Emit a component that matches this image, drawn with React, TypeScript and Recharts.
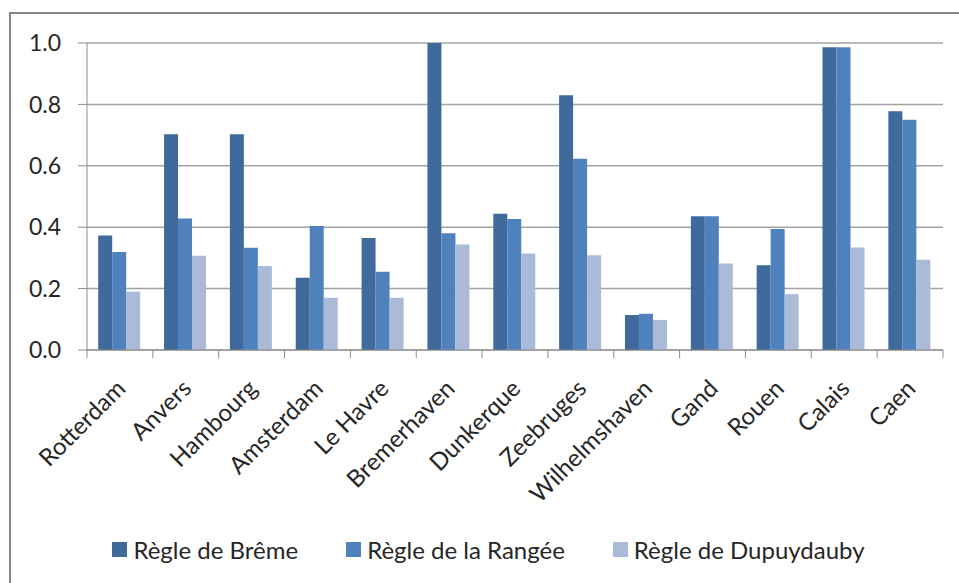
import { BarChart, Bar, XAxis, YAxis, CartesianGrid, Legend } from "recharts";

const ports = [
  "Rotterdam",
  "Anvers",
  "Hambourg",
  "Amsterdam",
  "Le Havre",
  "Bremerhaven",
  "Dunkerque",
  "Zeebruges",
  "Wilhelmshaven",
  "Gand",
  "Rouen",
  "Calais",
  "Caen",
];
const regleBreme = [0.373, 0.703, 0.703, 0.235, 0.365, 1.0, 0.444, 0.83, 0.114, 0.436, 0.276, 0.986, 0.778];
const regleRangee = [0.319, 0.428, 0.333, 0.404, 0.255, 0.38, 0.427, 0.623, 0.118, 0.436, 0.394, 0.986, 0.75];
const regleDupuydauby = [0.19, 0.307, 0.274, 0.17, 0.17, 0.344, 0.314, 0.309, 0.098, 0.282, 0.182, 0.334, 0.294];
const yTicks = [0, 0.2, 0.4, 0.6, 0.8, 1.0];

const series = [
  { key: "breme", name: "Règle de Brême", color: "#416a9c" },
  { key: "rangee", name: "Règle de la Rangée", color: "#4f81bd" },
  { key: "dupuy", name: "Règle de Dupuydauby", color: "#aabad7" },
];

const data = ports.map((port, i) => ({
  port,
  breme: regleBreme[i],
  rangee: regleRangee[i],
  dupuy: regleDupuydauby[i],
}));

const W = 959;
const H = 583;
const Y_AXIS_W = 87;
const RIGHT = 16;
const BAND = (W - Y_AXIS_W - RIGHT) / ports.length;
const FONT = "Lato, 'Open Sans', sans-serif";
const AXIS_GRAY = "#8c8c8c";

function PortTick(props: any) {
  const { x, y, payload, index } = props;
  const tx = x + 7;
  const ty = y + 40;
  return (
    <g>
      <line x1={x - BAND / 2} y1={y} x2={x - BAND / 2} y2={y + 8} stroke={AXIS_GRAY} />
      {index === ports.length - 1 && (
        <line x1={x + BAND / 2} y1={y} x2={x + BAND / 2} y2={y + 8} stroke={AXIS_GRAY} />
      )}
      <text
        x={tx}
        y={ty}
        transform={`rotate(-45, ${tx}, ${ty})`}
        textAnchor="end"
        fontSize={24}
        fontFamily={FONT}
        fill="#262626"
      >
        {payload.value}
      </text>
    </g>
  );
}

function LegendBox() {
  return (
    <div
      style={{
        display: "flex",
        justifyContent: "center",
        gap: 48,
        paddingLeft: 18,
        fontFamily: FONT,
        fontSize: 24,
        color: "#262626",
      }}
    >
      {series.map((s) => (
        <div key={s.key} style={{ display: "flex", alignItems: "center", gap: 6 }}>
          <span style={{ width: 15, height: 15, background: s.color, display: "inline-block" }} />
          <span>{s.name}</span>
        </div>
      ))}
    </div>
  );
}

export default function App() {
  return (
    <div
      style={{
        position: "fixed",
        left: 0,
        top: 0,
        width: W,
        height: H,
        overflow: "hidden",
        background: "#fff",
      }}
    >
      <div
        style={{
          position: "absolute",
          left: 9,
          top: 12,
          width: W + 20,
          height: H + 20,
          borderTop: "2px solid #868686",
          borderLeft: "2px solid #868686",
        }}
      />
      <div style={{ position: "absolute", left: 0, top: 0 }}>
        <BarChart
          width={W}
          height={H}
          data={data}
          margin={{ top: 43, right: RIGHT, left: 0, bottom: 0 }}
          barCategoryGap="17%"
          barGap={0}
        >
          <CartesianGrid vertical={false} stroke="#a3a3a3" strokeWidth={1.5} />
          <XAxis
            dataKey="port"
            height={H - 350}
            interval={0}
            tickLine={false}
            tickSize={0}
            tickMargin={0}
            stroke={AXIS_GRAY}
            tick={<PortTick />}
          />
          <YAxis
            width={Y_AXIS_W}
            domain={[0, 1]}
            ticks={yTicks}
            tickFormatter={(v: number) => v.toFixed(1)}
            tickSize={9}
            tickMargin={17}
            stroke={AXIS_GRAY}
            tick={{ fontSize: 23, fontFamily: FONT, fill: "#262626" }}
          />
          <Legend
            verticalAlign="middle"
            align="center"
            content={<LegendBox />}
            wrapperStyle={{ top: 535, left: 0, width: W }}
          />
          {series.map((s) => (
            <Bar key={s.key} dataKey={s.key} name={s.name} fill={s.color} isAnimationActive={false} />
          ))}
        </BarChart>
      </div>
    </div>
  );
}
